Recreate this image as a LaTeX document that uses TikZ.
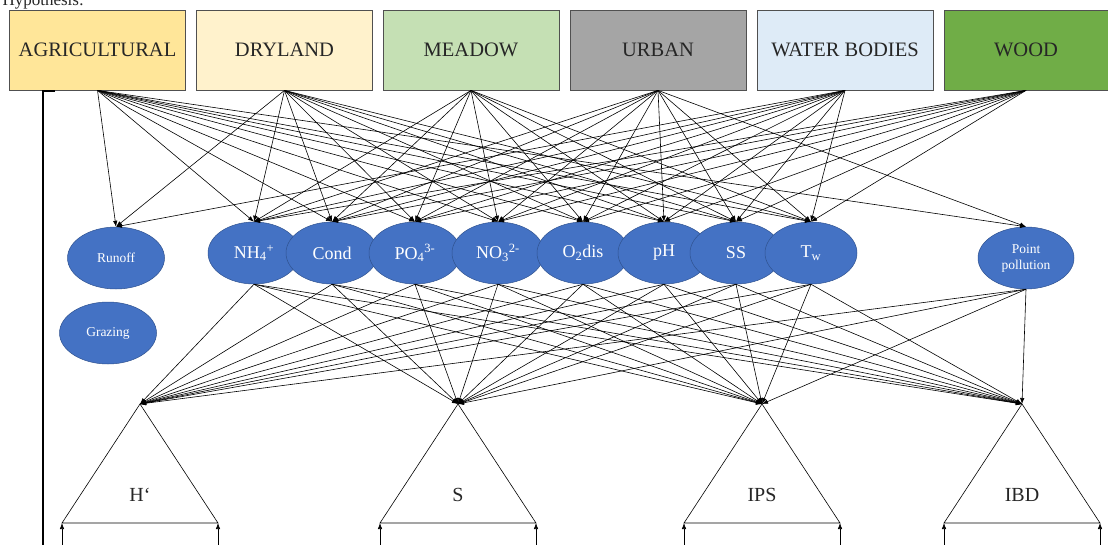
\documentclass[tikz,border=0pt]{standalone}
\usepackage{fontspec}
\setmainfont{Liberation Serif}
\usetikzlibrary{shapes.geometric,arrows.meta}
\definecolor{cagr}{HTML}{FFE699}
\definecolor{cdry}{HTML}{FFF2CC}
\definecolor{cmea}{HTML}{C5E0B4}
\definecolor{curb}{HTML}{A5A5A5}
\definecolor{cwat}{HTML}{DEEBF7}
\definecolor{cwoo}{HTML}{70AD47}
\definecolor{boxline}{HTML}{505050}
\definecolor{ellfill}{HTML}{4472C4}
\definecolor{ellline}{HTML}{2F528F}
\begin{document}
\begin{tikzpicture}[x=1pt,y=-1pt,
  landbox/.style={draw=boxline, line width=0.8pt, minimum width=176pt, minimum height=80pt, inner sep=0pt, text=black!85, font=\fontsize{20.5}{23}\selectfont},
  param/.style={ellipse, draw=ellline, line width=0.5pt, fill=ellfill, text=white, minimum width=92pt, minimum height=62pt, inner sep=0pt, font=\fontsize{18}{20}\selectfont},
  smallell/.style={ellipse, draw=ellline, line width=0.5pt, fill=ellfill, text=white, minimum width=97pt, minimum height=62pt, inner sep=0pt, align=center, font=\fontsize{13.5}{16}\selectfont},
  arr/.style={-{Latex[length=6pt,width=4.5pt]}, line width=0.6pt},
  tri/.style={line width=0.6pt},
  trilabel/.style={font=\fontsize{20}{22}\selectfont, text=black!85}
]
\useasboundingbox (0,0) rectangle (1108,544);

\node[anchor=base west, font=\fontsize{17}{20}\selectfont, text=black!85] (hyp) at (-1,5) {Hypothesis:};

% land-use boxes
\node[landbox, fill=cagr] (agr) at (97.5,50) {AGRICULTURAL};
\node[landbox, fill=cdry] (dry) at (284.5,50) {DRYLAND};
\node[landbox, fill=cmea] (mea) at (471,50) {MEADOW};
\node[landbox, fill=curb] (urb) at (658,50) {URBAN};
\node[landbox, fill=cwat] (wat) at (845,50) {WATER BODIES};
\node[landbox, fill=cwoo, minimum width=164pt] (woo) at (1026,50) {WOOD};

% left bar
\coordinate (barT) at (55,91);
\coordinate (barC) at (43,91);
\coordinate (barB) at (43,560);
\draw[line width=2pt] (barT) -- (barC) -- (barB);

% ellipses
\node[smallell] (run) at (116,258) {Runoff};
\node[smallell] (gra) at (108,333) {Grazing};
\node[param] (nh4) at (254,253) {NH\textsubscript{4}\textsuperscript{+}};
\node[param] (cond) at (332,253) {Cond};
\node[param] (po4) at (415,253) {PO\textsubscript{4}\textsuperscript{3-}};
\node[param] (no3) at (498,253) {NO\textsubscript{3}\textsuperscript{2-}};
\node[param] (o2) at (583,253) {O\textsubscript{2}dis};
\node[param] (ph) at (664,253) {pH};
\node[param] (ss) at (736,253) {SS};
\node[param] (tw) at (811,253) {T\textsubscript{w}};
\node[smallell, minimum width=96pt] (pp) at (1026,258) {Point\\pollution};

% triangles
\foreach \n/\x/\l in {hA/140/H‘, sA/458/S, iA/762/IPS, bA/1022/IBD}{
  \coordinate (\n) at (\x,404);
  \coordinate (\n L) at (\x-78,523);
  \coordinate (\n R) at (\x+78,523);
  \coordinate (\n Lb) at (\x-78,560);
  \coordinate (\n Rb) at (\x+78,560);
  \draw[tri] (\n L) -- (\n) -- (\n R) -- cycle;
  \node[trilabel] (\n lab) at (\x,495) {\l};
  \draw[arr] (\n Lb) -- (\n L);
  \draw[arr] (\n Rb) -- (\n R);
}

% upper edges
\foreach \s in {agr,dry,mea,urb,wat,woo}{
  \foreach \t in {nh4,cond,po4,no3,o2,ph,ss,tw}{
    \draw[arr] (\s.south) -- (\t.north);
  }
}
\draw[arr] (agr.south) -- (run.north);
\draw[arr] (dry.south) -- (run.north);
\draw[arr] (wat.south) -- (run.north);
\draw[arr] (agr.south) -- (pp.north);
\draw[arr] (urb.south) -- (pp.north);

% lower edges
\foreach \s in {nh4,cond,po4,no3,o2,ph,ss,tw,pp}{
  \foreach \t in {hA,sA,iA,bA}{
    \draw[arr] (\s.south) -- (\t);
  }
}
\end{tikzpicture}
\end{document}
